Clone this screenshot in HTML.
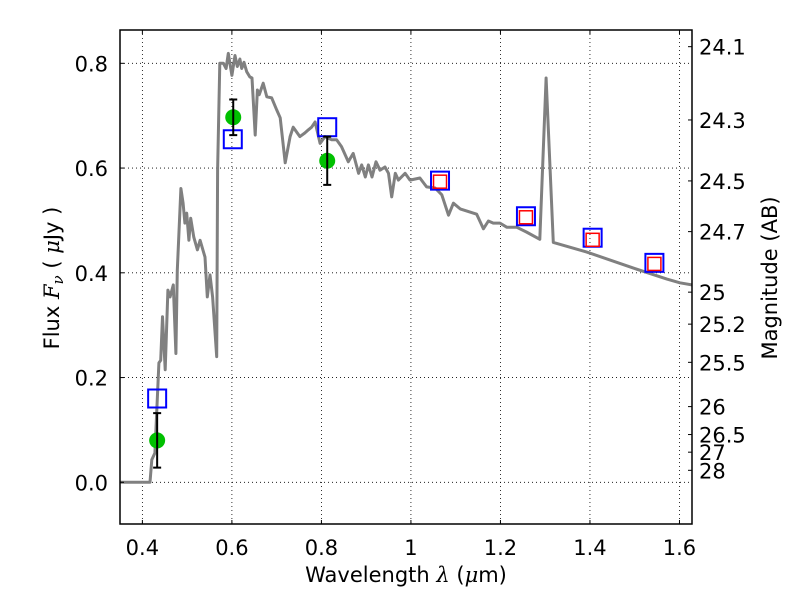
<!DOCTYPE html>
<html><head><meta charset="utf-8"><style>
body{margin:0;background:#fff;}
svg{display:block;font-family:"DejaVu Sans","Liberation Sans",sans-serif;}
</style></head><body>
<svg id="chart" width="800" height="600" viewBox="0 0 800 600" xmlns="http://www.w3.org/2000/svg">
<rect width="800" height="600" fill="#fff"/>
<g id="grid"></g>
<g id="marks"></g>
<g id="axes"></g>
<text x="406" y="582" font-size="21" text-anchor="middle">Wavelength  <tspan font-family="DejaVu Serif,serif" font-style="italic">λ</tspan> (<tspan font-family="DejaVu Serif,serif" font-style="italic">μ</tspan>m)</text>
<text transform="translate(59,278) rotate(-90)" font-size="21" text-anchor="middle">Flux  <tspan font-family="DejaVu Serif,serif" font-style="italic">F<tspan font-size="15" dy="4">ν</tspan></tspan><tspan dy="-4">  ( </tspan><tspan font-family="DejaVu Serif,serif" font-style="italic">μ</tspan>Jy )</text>
<text transform="translate(777,278) rotate(-90)" font-size="21" text-anchor="middle">Magnitude (AB)</text>
</svg>
<script>
const xTicks=[0.4,0.6,0.8,1.0,1.2,1.4,1.6];
const xTickLabels=["0.4","0.6","0.8","1","1.2","1.4","1.6"];
const yTicks=[0.0,0.2,0.4,0.6,0.8];
const yTickLabels=["0.0","0.2","0.4","0.6","0.8"];
const magTicks=[24.1,24.3,24.5,24.7,25,25.2,25.5,26,26.5,27,28];
const magTickLabels=["24.1","24.3","24.5","24.7","25","25.2","25.5","26","26.5","27","28"];
const specWl=[0.35,0.417,0.421,0.428,0.437,0.441,0.445,0.451,0.457,0.462,0.469,0.475,0.478,0.486,0.491,0.495,0.499,0.504,0.508,0.515,0.523,0.529,0.540,0.545,0.551,0.557,0.566,0.568,0.573,0.581,0.587,0.592,0.600,0.607,0.612,0.618,0.622,0.627,0.633,0.640,0.645,0.652,0.657,0.661,0.670,0.678,0.689,0.700,0.708,0.719,0.730,0.737,0.752,0.763,0.771,0.778,0.786,0.797,0.808,0.823,0.834,0.845,0.860,0.871,0.883,0.890,0.898,0.905,0.913,0.922,0.931,0.942,0.950,0.957,0.965,0.972,0.987,0.998,1.020,1.035,1.054,1.069,1.084,1.095,1.110,1.147,1.162,1.173,1.184,1.199,1.214,1.236,1.258,1.288,1.302,1.318,1.392,1.497,1.572,1.601,1.628];
const specFlux=[0,0,0.043,0.056,0.228,0.233,0.316,0.215,0.367,0.354,0.377,0.246,0.405,0.561,0.533,0.495,0.514,0.462,0.504,0.468,0.444,0.462,0.430,0.354,0.396,0.354,0.240,0.596,0.800,0.800,0.790,0.819,0.777,0.815,0.794,0.808,0.790,0.802,0.784,0.774,0.772,0.663,0.749,0.740,0.762,0.736,0.734,0.711,0.696,0.610,0.660,0.678,0.660,0.667,0.673,0.678,0.688,0.647,0.660,0.654,0.654,0.641,0.612,0.628,0.590,0.606,0.583,0.606,0.583,0.612,0.596,0.602,0.590,0.545,0.590,0.577,0.590,0.577,0.581,0.564,0.562,0.549,0.510,0.533,0.522,0.512,0.484,0.499,0.495,0.495,0.487,0.487,0.478,0.464,0.772,0.458,0.440,0.409,0.388,0.381,0.377];
const obsWl=[0.433,0.603,0.813];
const obsFlux=[0.080,0.697,0.614];
const obsErr=[0.052,0.034,0.046];
const blueWl=[0.433,0.602,0.813,1.065,1.257,1.406,1.544];
const blueFlux=[0.160,0.655,0.678,0.576,0.508,0.467,0.419];
const redWl=[1.065,1.257,1.406,1.544];
const redFlux=[0.574,0.506,0.463,0.417];

const L=120,R=692,T=30,B=524;
const X0=0.35,X1=1.628,Y0=-0.0796,Y1=0.8636;
const sx=v=>L+(v-X0)/(X1-X0)*(R-L);
const sy=v=>B-(v-Y0)/(Y1-Y0)*(B-T);
const magToFlux=m=>Math.pow(10,(23.9-m)/2.5);
const NS="http://www.w3.org/2000/svg";
function mk(parent,tag,attrs,text){const e=document.createElementNS(NS,tag);for(const k in attrs)e.setAttribute(k,attrs[k]);if(text!==undefined)e.textContent=text;parent.appendChild(e);return e;}
const grid=document.getElementById('grid'),marks=document.getElementById('marks'),axes=document.getElementById('axes');

xTicks.forEach((t,i)=>{
  const l=mk(grid,'line',{x1:sx(t),x2:sx(t),y1:T,y2:B,stroke:'#000','stroke-width':0.8,'stroke-dasharray':'1,3'});
  
  
  const tk=mk(axes,'line',{x1:sx(t),x2:sx(t),y1:B,y2:B-4,stroke:'#000'});
  
  
  const tk2=mk(axes,'line',{x1:sx(t),x2:sx(t),y1:T,y2:T+4,stroke:'#000'});
  
  
  const lb=mk(axes,'text',{x:sx(t),y:B+31,'font-size':21,'text-anchor':'middle'},xTickLabels[i]);
  
  
});
yTicks.forEach((t,i)=>{
  const l=mk(grid,'line',{x1:L,x2:R,y1:sy(t),y2:sy(t),stroke:'#000','stroke-width':0.8,'stroke-dasharray':'1,3'});
  
  
  const tk=mk(axes,'line',{x1:L,x2:L+4,y1:sy(t),y2:sy(t),stroke:'#000'});
  
  
  const lb=mk(axes,'text',{x:L-12,y:sy(t)+8,'font-size':21,'text-anchor':'end'},yTickLabels[i]);
  
  
});
magTicks.forEach((m,i)=>{
  const y=sy(magToFlux(m));
  const tk=mk(axes,'line',{x1:R,x2:R-4,y1:y,y2:y,stroke:'#000'});
  
  
  const lb=mk(axes,'text',{x:R+7,y:y+8,'font-size':21},magTickLabels[i]);
  
  
});

const cp=mk(marks,'clipPath',{id:'cp'});
mk(cp,'rect',{x:L,y:T,width:R-L,height:B-T});
const pts=specWl.map((w,i)=>sx(w).toFixed(1)+','+sy(specFlux[i]).toFixed(1)).join(' ');
const sp=mk(marks,'polyline',{points:pts,fill:'none',stroke:'#808080','stroke-width':3,'stroke-linejoin':'round','clip-path':'url(#cp)'});



blueWl.forEach((w,i)=>{
  const r=mk(marks,'rect',{x:sx(w)-9,y:sy(blueFlux[i])-9,width:18,height:18,fill:'none',stroke:'#0000ff','stroke-width':2});
  
  
});
redWl.forEach((w,i)=>{
  const r=mk(marks,'rect',{x:sx(w)-6.5,y:sy(redFlux[i])-6.5,width:13,height:13,fill:'none',stroke:'#ff0000','stroke-width':1.5});
  
  
});
obsWl.forEach((w,i)=>{
  const x=sx(w),y=sy(obsFlux[i]);
  const c=mk(marks,'circle',{cx:x,cy:y,r:8,fill:'#00c000'});
  
  
  const yt=sy(obsFlux[i]+obsErr[i]),yb=sy(obsFlux[i]-obsErr[i]);
  const e=mk(marks,'path',{d:`M${x},${yt}V${yb}M${x-4},${yt}H${x+4}M${x-4},${yb}H${x+4}`,stroke:'#000','stroke-width':2,fill:'none'});
  
  
});

const fr=mk(axes,'rect',{x:L,y:T,width:R-L,height:B-T,fill:'none',stroke:'#000','stroke-width':1.5});


</script>
</body></html>
